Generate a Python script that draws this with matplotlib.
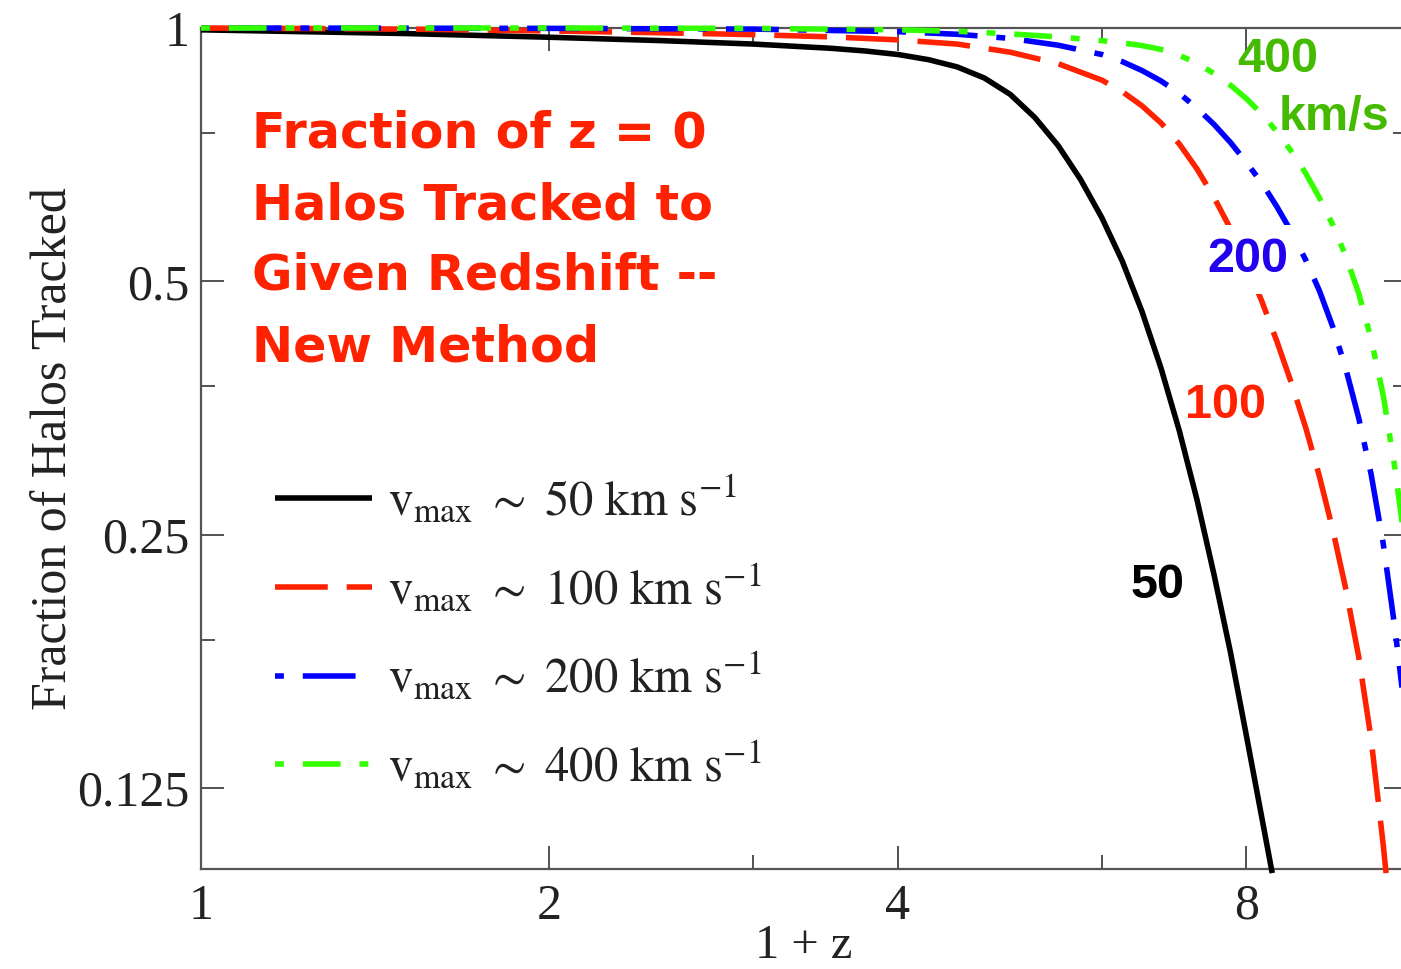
import matplotlib
matplotlib.use("Agg")
import matplotlib.pyplot as plt
from matplotlib.ticker import FixedLocator, NullFormatter

plt.rcParams['mathtext.fontset'] = 'stix'
plt.rcParams['font.family'] = ['Liberation Serif', 'DejaVu Serif']

# ---------------- data (x = 1+z, y = fraction tracked) ----------------
x50 = [1, 1.5, 2, 2.5, 3, 3.5, 3.75, 4, 4.25, 4.5, 4.75, 5, 5.25, 5.5, 5.75, 6, 6.25, 6.5,
       6.75, 7, 7.25, 7.5, 7.75, 8, 8.25, 8.42]
y50 = [0.995, 0.985, 0.975, 0.966, 0.957, 0.946, 0.939, 0.930, 0.917, 0.899, 0.872, 0.834,
       0.783, 0.725, 0.661, 0.595, 0.528, 0.460, 0.394, 0.332, 0.275, 0.224, 0.181, 0.144,
       0.115, 0.099]

x100 = [1, 1.5, 2, 2.5, 3, 3.5, 4, 4.5, 5, 5.5, 6, 6.25, 6.5, 6.75, 7, 7.25, 7.5, 7.75, 8,
        8.25, 8.5, 8.75, 9, 9.25, 9.5, 9.75, 10, 10.25, 10.5, 10.56]
y100 = [1.0, 0.997, 0.992, 0.987, 0.982, 0.976, 0.968, 0.957, 0.936, 0.907, 0.867, 0.840,
        0.808, 0.771, 0.728, 0.680, 0.629, 0.577, 0.524, 0.473, 0.424, 0.378, 0.335, 0.293,
        0.253, 0.215, 0.179, 0.143, 0.107, 0.099]

x200 = [1, 2, 3, 4, 4.5, 5, 5.5, 6, 6.25, 6.5, 6.75, 7, 7.25, 7.5, 7.75, 8, 8.25, 8.5, 8.75,
        9, 9.25, 9.5, 9.75, 10, 10.25, 10.5, 10.75, 11]
y200 = [1.0, 0.999, 0.997, 0.990, 0.983, 0.972, 0.954, 0.930, 0.912, 0.890, 0.865, 0.836,
        0.803, 0.768, 0.731, 0.692, 0.654, 0.613, 0.572, 0.530, 0.487, 0.441, 0.393, 0.344,
        0.295, 0.244, 0.193, 0.148]

x400 = [1, 2, 3, 4, 4.5, 5, 5.5, 6, 6.25, 6.5, 6.75, 7, 7.25, 7.5, 7.75, 8, 8.25, 8.5, 8.75,
        9, 9.25, 9.5, 9.75, 10, 10.25, 10.5, 10.75, 11]
y400 = [1.0, 1.0, 0.999, 0.995, 0.991, 0.984, 0.976, 0.966, 0.960, 0.953, 0.943, 0.928,
        0.908, 0.883, 0.855, 0.824, 0.790, 0.753, 0.713, 0.672, 0.628, 0.583, 0.535, 0.484,
        0.427, 0.366, 0.299, 0.235]

legend_labels = [
    r'$\mathrm{v}_{\mathrm{max}}\ \sim\ \mathrm{50\ km\ s}^{\mathrm{-1}}$',
    r'$\mathrm{v}_{\mathrm{max}}\ \sim\ \mathrm{100\ km\ s}^{\mathrm{-1}}$',
    r'$\mathrm{v}_{\mathrm{max}}\ \sim\ \mathrm{200\ km\ s}^{\mathrm{-1}}$',
    r'$\mathrm{v}_{\mathrm{max}}\ \sim\ \mathrm{400\ km\ s}^{\mathrm{-1}}$',
]

x_major = [1, 2, 4, 8]
x_major_labels = ['1', '2', '4', '8']
x_minor = [3, 6]
y_major = [1, 0.5, 0.25, 0.125]
y_major_labels = ['1', '0.5', '0.25', '0.125']
y_minor = [0.75, 0.375, 0.1875]

title_lines = ['Fraction of z = 0', 'Halos Tracked to', 'Given Redshift --', 'New Method']

# ---------------- figure ----------------
W, H = 1401, 969
fig = plt.figure(figsize=(W / 100, H / 100), dpi=100)
ax_left, ax_top, ax_wpx, ax_hpx = 201, 28, 1205.6, 841.4
ax = fig.add_axes([ax_left / W, 1 - (ax_top + ax_hpx) / H, ax_wpx / W, ax_hpx / H])

ax.set_xscale('log', base=2)
ax.set_yscale('log', base=2)
ax.set_xlim(1, 11)
ax.set_ylim(0.1, 1)

lw = 4.0
ax.plot(x50, y50, color='black', lw=lw, solid_capstyle='butt', zorder=3, clip_on=False,
        label=legend_labels[0])
ax.plot(x100, y100, color='#ff2200', lw=lw, dashes=(9.5, 3.4), zorder=3, clip_on=False,
        label=legend_labels[1])
ax.plot(x200, y200, color='#0000ff', lw=lw, dashes=(1.6, 3.4, 9.5, 3.4), zorder=3,
        clip_on=False, label=legend_labels[2])
ax.plot(x400, y400, color='#33ff00', lw=lw, dashes=(1.6, 3.4, 6.8, 3.4, 1.6, 3.4), zorder=3,
        clip_on=False, label=legend_labels[3])

ax.xaxis.set_major_locator(FixedLocator(x_major))
ax.set_xticklabels(x_major_labels)
ax.xaxis.set_minor_locator(FixedLocator(x_minor))
ax.xaxis.set_minor_formatter(NullFormatter())
ax.yaxis.set_major_locator(FixedLocator(y_major))
ax.set_yticklabels(y_major_labels)
ax.yaxis.set_minor_locator(FixedLocator(y_minor))
ax.yaxis.set_minor_formatter(NullFormatter())

tick_col = '#444444'
ax.tick_params(which='both', direction='in', top=True, right=True, color=tick_col, width=1.3)
ax.tick_params(which='major', length=16.5)
ax.tick_params(which='minor', length=10)
ax.tick_params(axis='y', which='major', labelsize=36, pad=8, labelcolor='#222222')
ax.tick_params(axis='x', which='major', labelsize=36, pad=10, labelcolor='#222222')
for sp in ax.spines.values():
    sp.set_color('#555555')
    sp.set_linewidth(1.6)

ax.set_xlabel('1 + z', fontsize=35, color='#222222')
ax.xaxis.label.set_va('bottom')
ax.xaxis.set_label_coords(0.5, (1 - (H - ax_top - ax_hpx)) / ax_hpx)
ax.set_ylabel('Fraction of Halos Tracked', fontsize=36, color='#222222', labelpad=0)

leg = ax.legend(loc='upper left', bbox_to_anchor=(275 / W, 1 - 474 / H),
                bbox_transform=fig.transFigure, frameon=False, fontsize=35,
                handlelength=2.0, handletextpad=0.33, labelspacing=0.77,
                borderpad=0, borderaxespad=0)
for t in leg.get_texts():
    t.set_color('#222222')

# red heading block
red_txt = '#ff2200'
for line, base in zip(title_lines, [148, 219, 290, 362]):
    fig.text(252 / W, 1 - base / H, line, fontsize=35.5, fontweight='bold',
             family='DejaVu Sans', color=red_txt, va='baseline', ha='left')

lab_kw = dict(fontsize=35, fontweight='bold', family='Liberation Sans', va='baseline', ha='left')
fig.text(1237 / W, 1 - 72 / H, '400', color='#44bb00', **lab_kw)
fig.text(1279 / W, 1 - 130 / H, 'km/s', color='#44bb00', **lab_kw)
fig.text(1207 / W, 1 - 272 / H, '200', color='#2200ee', zorder=5,
         bbox=dict(boxstyle='square,pad=0.25', fc='white', ec='none'), **lab_kw)
fig.text(1185 / W, 1 - 418 / H, '100', color=red_txt, **lab_kw)
fig.text(1131 / W, 1 - 598 / H, '50', color='black', **lab_kw)

fig.savefig('out.png', dpi=100)
